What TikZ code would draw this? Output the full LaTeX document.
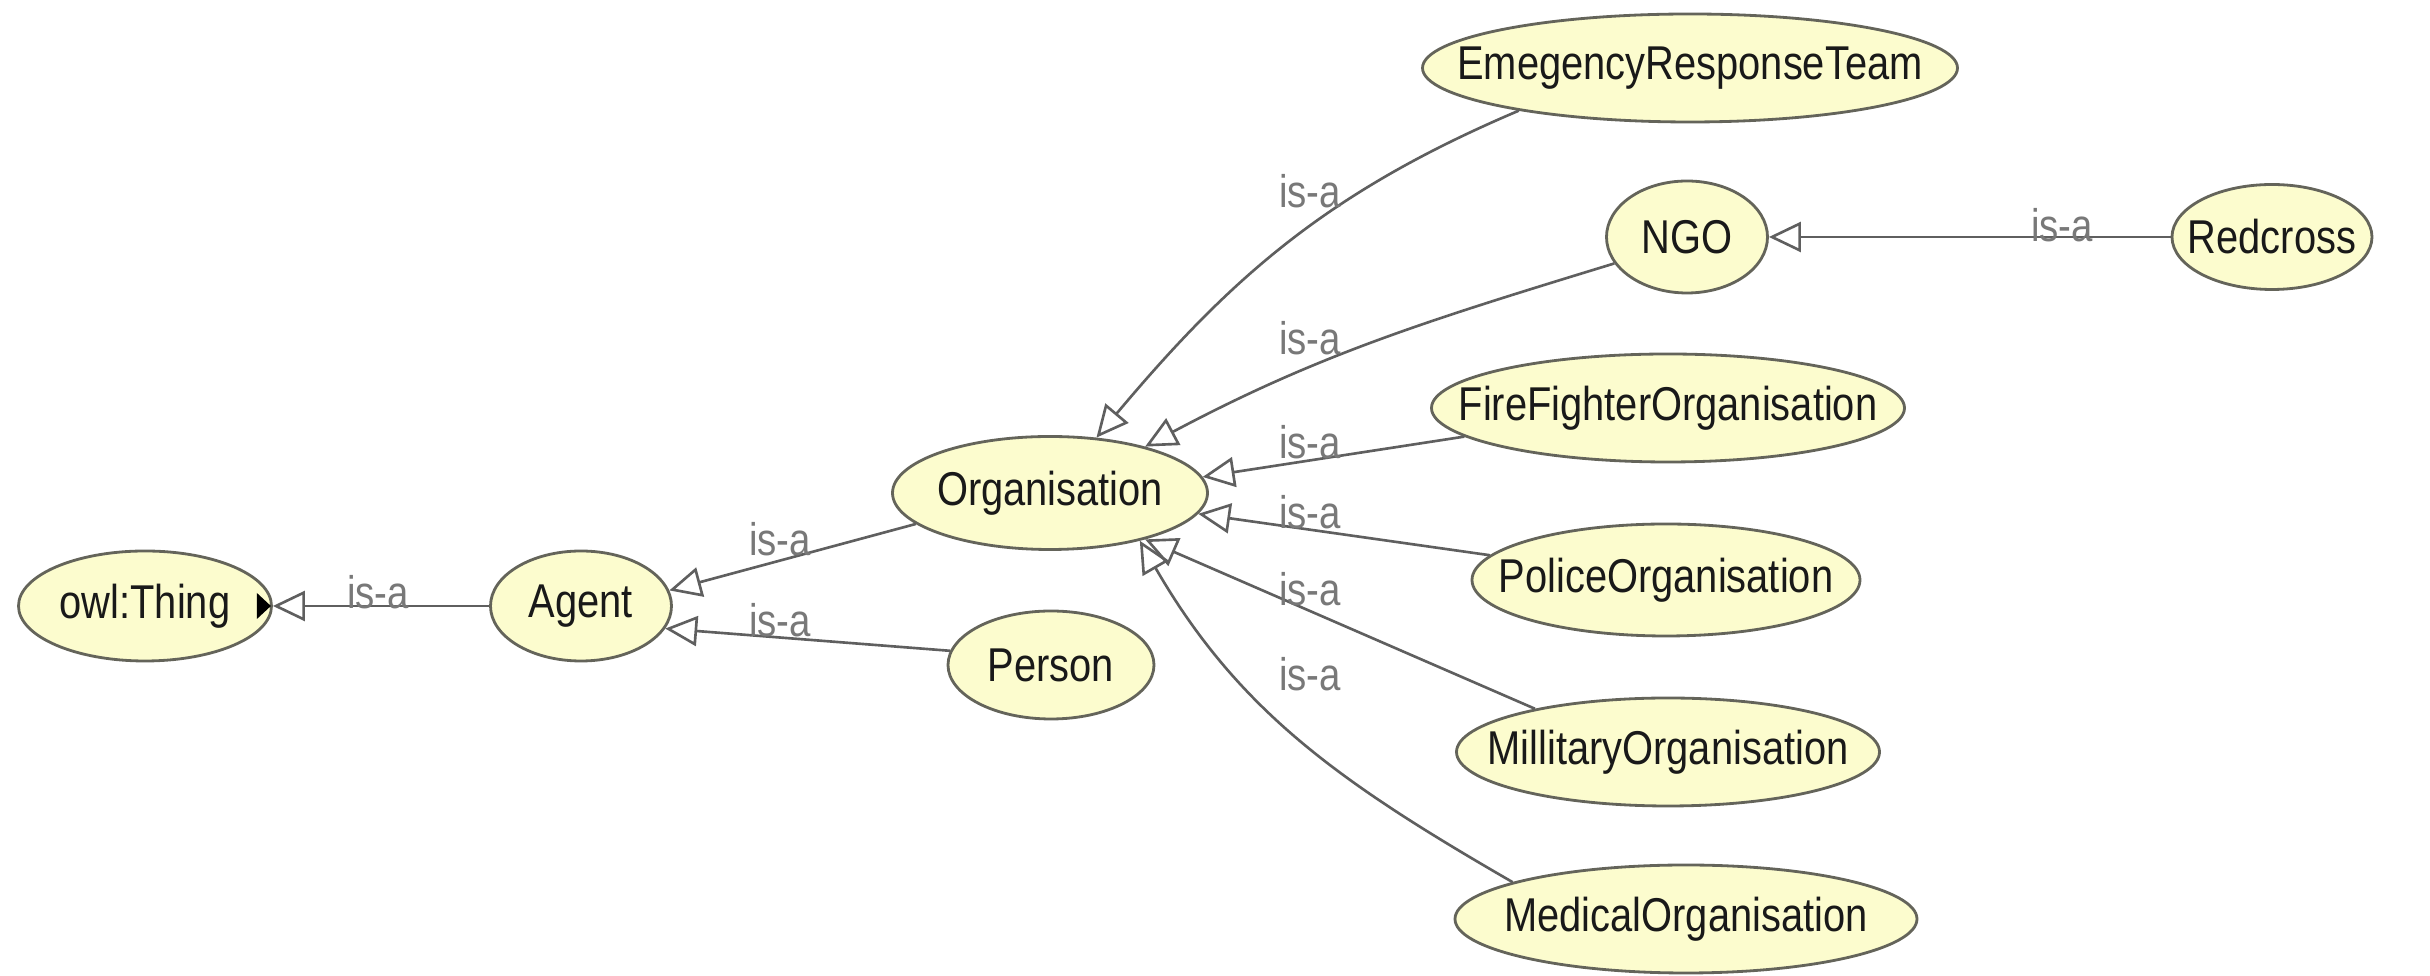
\documentclass[tikz,border=0pt]{standalone}
\usepackage{fontspec}
\setmainfont[FakeStretch=0.84]{Liberation Sans}
\usetikzlibrary{shapes.geometric,arrows.meta}
\definecolor{clsfill}{RGB}{252,252,206}
\definecolor{clsline}{RGB}{100,100,90}
\definecolor{isagray}{RGB}{95,95,95}
\definecolor{lblgray}{RGB}{120,120,120}
\newcommand{\clsname}[1]{\makebox[0pt]{#1}}

\begin{document}
\begin{tikzpicture}[x=0.1mm,y=0.1mm,
		cls/.style={ellipse,draw=clsline,fill=clsfill,line width=0.8pt,inner sep=0pt,
			minimum height=11mm,text=black!90,font=\fontsize{13.5}{15}\selectfont},
		isa/.style={draw=isagray,line width=0.75pt,-{Triangle[open,length=3.2mm,width=3mm]}},
		lbl/.style={text=lblgray,inner sep=0pt,font=\fontsize{13}{15}\selectfont}]
		\useasboundingbox (0,0) rectangle (2430,-976);
		% classes
		\node[cls,minimum width=25.3mm] (thing) at (145,-606) {\clsname{owl:Thing}};
		\node[cls,minimum width=18.1mm] (agent) at (581,-606) {\clsname{Agent}};
		\node[cls,minimum width=20.6mm,minimum height=10.8mm] (person) at (1051,-665) {\clsname{Person}};
		\node[cls,minimum width=31.5mm,minimum height=11.3mm] (org) at (1050,-493) {\clsname{Organisation}};
		\node[cls,minimum width=53.5mm,minimum height=10.8mm] (ert) at (1690,-68) {\clsname{EmegencyResponseTeam}};
		\node[cls,minimum width=16.1mm,minimum height=11.2mm] (ngo) at (1687,-237) {\clsname{NGO}};
		\node[cls,minimum width=20mm,minimum height=10.5mm] (red) at (2272,-237) {\clsname{Redcross}};
		\node[cls,minimum width=47.3mm,minimum height=10.8mm] (fire) at (1668,-408) {\clsname{FireFighterOrganisation}};
		\node[cls,minimum width=38.8mm,minimum height=11.2mm] (police) at (1666,-580) {\clsname{PoliceOrganisation}};
		\node[cls,minimum width=42.3mm,minimum height=10.8mm] (mil) at (1668,-752) {\clsname{MillitaryOrganisation}};
		\node[cls,minimum width=46.2mm,minimum height=10.8mm] (med) at (1686,-919) {\clsname{MedicalOrganisation}};
		% expand marker
		\fill[black] ([xshift=-1.6mm,yshift=1.3mm]thing.east) -- ([xshift=-0.2mm]thing.east)
			-- ([xshift=-1.6mm,yshift=-1.3mm]thing.east) -- cycle;
		% is-a links
		\draw[isa] (agent) -- (thing);
		\draw[isa] (org.193) -- (agent.10);
		\draw[isa] (person.172) -- (agent.345);
		\draw[isa] (ert.194) to[out=203,in=50] (org.50);
		\draw[isa] (ngo.200) to[out=197,in=28] (org.26);
		\draw[isa] (fire.188) -- (org.6);
		\draw[isa] (police.172) -- (org.352);
		\draw[isa] (mil.162) -- (org.334);
		\draw[isa] (med.168) to[out=150,in=300] (org.332);
		\draw[isa] (red) -- (ngo);
		% labels
		\node[lbl] (lthing) at (378,-592) {is-a};
		\node[lbl] (lorg) at (780,-539) {is-a};
		\node[lbl] (lperson) at (780,-620) {is-a};
		\node[lbl] (lert) at (1310,-191) {is-a};
		\node[lbl] (lngo) at (1310,-338) {is-a};
		\node[lbl] (lfire) at (1310,-442) {is-a};
		\node[lbl] (lpolice) at (1310,-512) {is-a};
		\node[lbl] (lmil) at (1310,-589) {is-a};
		\node[lbl] (lmed) at (1310,-674) {is-a};
		\node[lbl] (lred) at (2062,-225) {is-a};
	\end{tikzpicture}
\end{document}
